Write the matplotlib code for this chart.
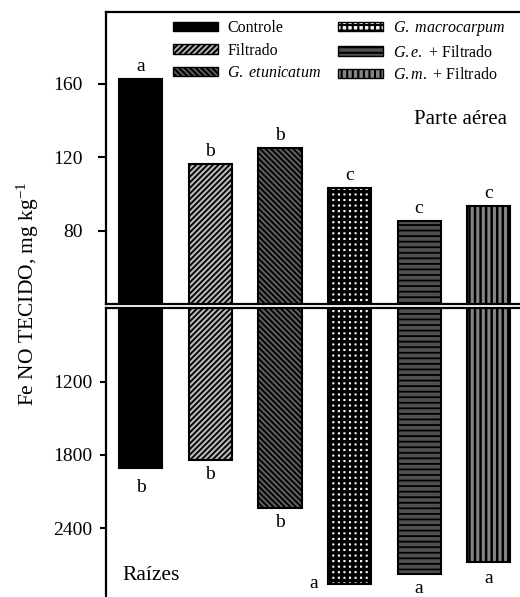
import matplotlib
matplotlib.use("Agg")
import matplotlib.pyplot as plt
from matplotlib.patches import Patch

plt.rcParams['font.family'] = ['Liberation Serif', 'DejaVu Serif']
plt.rcParams['mathtext.fontset'] = 'custom'
plt.rcParams['mathtext.rm'] = 'Liberation Serif'
plt.rcParams['mathtext.it'] = 'Liberation Serif:italic'
plt.rcParams['hatch.linewidth'] = 1.5

# Treatments and Fe concentrations (mg/kg)
treatments = ["Controle", "Filtrado", "$\\mathit{G.\\ etunicatum}$",
              "$\\mathit{G.\\ macrocarpum}$", "$\\mathit{G.e.}$ + Filtrado",
              "$\\mathit{G.m.}$ + Filtrado"]
shoot_fe = [162.3, 116.4, 125.1, 103.3, 85.0, 93.5]
shoot_letters = ["a", "b", "b", "c", "c", "c"]
root_fe = [1909, 1844, 2238, 2860, 2778, 2679]
root_letters = ["b", "b", "b", "a", "a", "a"]
shoot_ticks = [80, 120, 160]
root_ticks = [1200, 1800, 2400]

facecolors = ["black", "#b8b8b8", "#5e5e5e", "#f4f4f4", "#505050", "#858585"]
hatches = [None, "//////", "\\\\\\\\\\\\", "+++", "---", "|||"]
hatch_lw = [1.0, 1.3, 1.3, 2.4, 1.3, 1.8]


def styled_bar(ax, i, value):
    with plt.rc_context({'hatch.linewidth': hatch_lw[i]}):
        bars = ax.bar(x[i], value, width=w, color=facecolors[i],
                      edgecolor="black", linewidth=1.5, hatch=hatches[i])
    for b in bars:
        if hasattr(b, "set_hatch_linewidth"):
            b.set_hatch_linewidth(hatch_lw[i])
    return bars


fig = plt.figure(figsize=(5.2, 5.97), dpi=100)
ax1 = fig.add_axes([106/520, 1-304/597, 1-106/520, (304-12)/597])
ax2 = fig.add_axes([106/520, 0, 1-106/520, 1-308/597])

x = list(range(len(treatments)))
w = 0.62

for ax, vals in ((ax1, shoot_fe), (ax2, root_fe)):
    for i, v in enumerate(vals):
        styled_bar(ax, i, v)
    ax.set_xlim(-0.5, 5.45)
    ax.set_xticks([])
    ax.spines['right'].set_visible(False)
    for s in ax.spines.values():
        s.set_linewidth(1.6)

# Upper panel: shoots
ax1.set_ylim(40, 199)
ax1.set_yticks(shoot_ticks)
ax1.tick_params(axis='y', direction='out', length=5.5, width=1.5,
                labelsize=14, pad=11)
for i, (v, t) in enumerate(zip(shoot_fe, shoot_letters)):
    ax1.annotate(t, (x[i], v), xytext=(0, 3), textcoords="offset points",
                 ha="center", va="bottom", fontsize=14)
fig.text(460/520, 1-120/597, "Parte aérea", fontsize=15, ha="center", va="center")

# Lower panel: roots, inverted scale
ax2.set_ylim(2967, 592)
ax2.set_yticks(root_ticks)
ax2.spines['bottom'].set_visible(False)
ax2.tick_params(axis='y', direction='out', length=4.5, width=1.5,
                labelsize=14, pad=5.5)
offsets = [(0, -8), (0, -4), (0, -4), (-26, 0), (0, -4), (0, -6)]
for i, (v, t) in enumerate(zip(root_fe, root_letters)):
    dx, dy = offsets[i]
    ax2.annotate(t, (x[i], v), xytext=(dx, dy), textcoords="offset points",
                 ha="center", va="top" if dy < 0 else "center", fontsize=14)
fig.text(122/520, 1-576/597, "Raízes", fontsize=15.5, ha="left", va="center")

fig.text(28/520, 1-294/597, "Fe NO TECIDO, mg kg$^{-1}$", rotation=90,
         fontsize=15.5, ha="center", va="center")

handles = []
for i in x:
    lw_h = min(hatch_lw[i], 1.0)
    with plt.rc_context({'hatch.linewidth': lw_h}):
        p = Patch(facecolor=facecolors[i], edgecolor="black", linewidth=1.0,
                  hatch=hatches[i], label=treatments[i])
    if hasattr(p, "set_hatch_linewidth"):
        p.set_hatch_linewidth(lw_h)
    handles.append(p)
fig.legend(handles=handles, loc="upper left", ncol=2,
           bbox_to_anchor=(173/520, 1-19/597), frameon=False, fontsize=11.5,
           handlelength=2.8, handleheight=0.5, handletextpad=0.6,
           columnspacing=1.05, labelspacing=0.42, borderpad=0, borderaxespad=0)

fig.savefig("out.png", dpi=100)
